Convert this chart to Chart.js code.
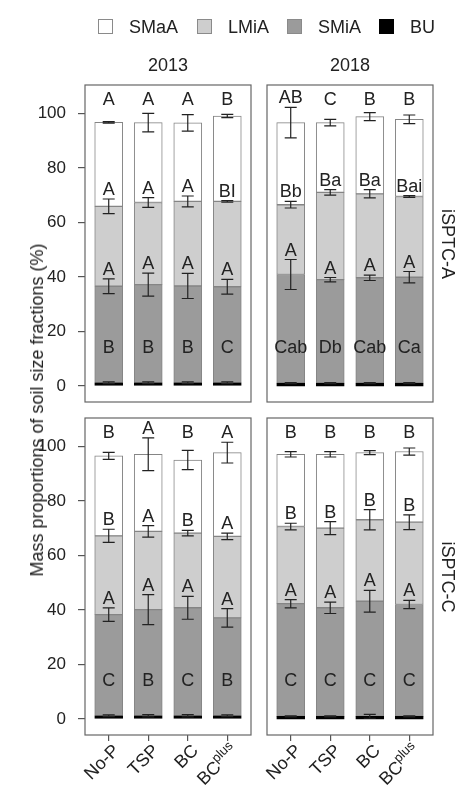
<!DOCTYPE html>
<html>
<head>
<meta charset="utf-8">
<script src="https://cdn.jsdelivr.net/npm/chart.js@4/dist/chart.umd.min.js"></script>
<style>
  html, body { margin: 0; padding: 0; background: #fff; }
  #wrap { position: relative; width: 462px; height: 787px; overflow: hidden;
          font-family: "Liberation Sans", Arial, Helvetica, sans-serif; color: #222; }
  #wrap canvas { position: absolute; left: 0; top: 0; }
  .txt { position: absolute; white-space: nowrap; font-size: 18px; line-height: 18px; }
  .sw { position: absolute; width: 15px; height: 15px; box-sizing: border-box; border: 1px solid #8a8a8a; }
</style>
</head>
<body>
<div id="wrap">
  <canvas id="pA2013" width="462" height="787"></canvas>
  <canvas id="pA2018" width="462" height="787"></canvas>
  <canvas id="pC2013" width="462" height="787"></canvas>
  <canvas id="pC2018" width="462" height="787"></canvas>
</div>
<script>
// ---- categories and labels ----
const treatments = ['No-P', 'TSP', 'BC', 'BC^plus'];
const fractions = ['SMaA', 'LMiA', 'SMiA', 'BU'];
const years = ['2013', '2018'];
const sites = ['iSPTC-A', 'iSPTC-C'];
const yTicks = [0, 20, 40, 60, 80, 100];

// ---- iSPTC-A, 2013 (mass %, mean and SE per fraction) ----
const A2013_BU   = [1.2, 1.2, 1.2, 1.2];
const A2013_SMiA = [35.4, 36.0, 35.5, 35.2];
const A2013_LMiA = [29.3, 30.1, 31.0, 31.3];
const A2013_SMaA = [30.8, 29.3, 28.8, 31.3];
const A2013_seBU   = [0.3, 0.3, 0.3, 0.3];
const A2013_seSMiA = [2.7, 4.2, 4.6, 2.7];
const A2013_seLMiA = [2.7, 1.8, 2.0, 0.3];
const A2013_seSMaA = [0.3, 3.4, 3.0, 0.6];
const A2013_letBU   = ['B', 'B', 'B', 'C'];
const A2013_letSMiA = ['A', 'A', 'A', 'A'];
const A2013_letLMiA = ['A', 'A', 'A', 'BI'];
const A2013_letSMaA = ['A', 'A', 'A', 'B'];

// ---- iSPTC-A, 2018 ----
const A2018_BU   = [1.1, 1.1, 1.1, 1.1];
const A2018_SMiA = [39.8, 37.9, 38.6, 38.8];
const A2018_LMiA = [25.6, 32.0, 30.8, 29.6];
const A2018_SMaA = [30.1, 25.6, 28.3, 28.3];
const A2018_seBU   = [0.2, 0.2, 0.2, 0.2];
const A2018_seSMiA = [5.5, 0.8, 1.0, 2.1];
const A2018_seLMiA = [1.2, 1.0, 1.5, 0.3];
const A2018_seSMaA = [5.6, 1.2, 1.5, 1.6];
const A2018_letBU   = ['Cab', 'Db', 'Cab', 'Ca'];
const A2018_letSMiA = ['A', 'A', 'A', 'A'];
const A2018_letLMiA = ['Bb', 'Ba', 'Ba', 'Bai'];
const A2018_letSMaA = ['AB', 'C', 'B', 'B'];

// ---- iSPTC-C, 2013 ----
const C2013_BU   = [1.2, 1.2, 1.2, 1.2];
const C2013_SMiA = [37.1, 38.9, 39.6, 35.9];
const C2013_LMiA = [28.9, 28.7, 27.4, 29.9];
const C2013_SMaA = [29.3, 28.3, 26.8, 30.7];
const C2013_seBU   = [0.3, 0.4, 0.4, 0.3];
const C2013_seSMiA = [2.5, 5.5, 4.2, 3.4];
const C2013_seLMiA = [2.4, 2.1, 1.0, 1.2];
const C2013_seSMaA = [1.3, 6.0, 3.5, 3.8];
const C2013_letBU   = ['C', 'B', 'C', 'B'];
const C2013_letSMiA = ['A', 'A', 'A', 'A'];
const C2013_letLMiA = ['B', 'A', 'B', 'A'];
const C2013_letSMaA = ['B', 'A', 'B', 'A'];

// ---- iSPTC-C, 2018 ----
const C2018_BU   = [1.0, 1.0, 1.0, 1.0];
const C2018_SMiA = [41.3, 39.8, 42.2, 41.0];
const C2018_LMiA = [28.3, 29.2, 29.9, 30.2];
const C2018_SMaA = [26.5, 27.1, 24.6, 25.9];
const C2018_seBU   = [0.2, 0.2, 0.7, 0.2];
const C2018_seSMiA = [1.5, 2.1, 4.0, 1.5];
const C2018_seLMiA = [1.2, 2.4, 3.7, 2.7];
const C2018_seSMaA = [1.0, 1.0, 0.7, 1.3];
const C2018_letBU   = ['C', 'C', 'C', 'C'];
const C2018_letSMiA = ['A', 'A', 'A', 'A'];
const C2018_letLMiA = ['B', 'B', 'B', 'B'];
const C2018_letSMaA = ['B', 'B', 'B', 'B'];

// ---- layout and styling ----
const PAGE_W = 462, PAGE_H = 787;
const FONT = '"Liberation Sans", Arial, Helvetica, sans-serif';
const INK = '#222';
const FILL = { SMaA: '#ffffff', LMiA: '#cecece', SMiA: '#9b9b9b', BU: '#000000' };
const Y_MIN = -5.85, Y_MAX = 110.4;     // R-style padded range
const X_MIN = -0.6, X_MAX = 3.6;
const YAXIS_W = 80, XAXIS_H = 20;
const BU_LETTER_Y = 14.5, TOP_LETTER_Y = 105.5;

const panels = [
  { id: 'pA2013', box: { l: 85,  t: 85,  r: 251, b: 402 }, yAxis: true,  xAxis: false,
    bu: A2013_BU, smia: A2013_SMiA, lmia: A2013_LMiA, smaa: A2013_SMaA,
    se: [A2013_seBU, A2013_seSMiA, A2013_seLMiA, A2013_seSMaA],
    let: [A2013_letBU, A2013_letSMiA, A2013_letLMiA, A2013_letSMaA] },
  { id: 'pA2018', box: { l: 267, t: 85,  r: 433, b: 402 }, yAxis: false, xAxis: false,
    bu: A2018_BU, smia: A2018_SMiA, lmia: A2018_LMiA, smaa: A2018_SMaA,
    se: [A2018_seBU, A2018_seSMiA, A2018_seLMiA, A2018_seSMaA],
    let: [A2018_letBU, A2018_letSMiA, A2018_letLMiA, A2018_letSMaA] },
  { id: 'pC2013', box: { l: 85,  t: 418, r: 251, b: 735 }, yAxis: true,  xAxis: true,
    bu: C2013_BU, smia: C2013_SMiA, lmia: C2013_LMiA, smaa: C2013_SMaA,
    se: [C2013_seBU, C2013_seSMiA, C2013_seLMiA, C2013_seSMaA],
    let: [C2013_letBU, C2013_letSMiA, C2013_letLMiA, C2013_letSMaA] },
  { id: 'pC2018', box: { l: 267, t: 418, r: 433, b: 735 }, yAxis: false, xAxis: true,
    bu: C2018_BU, smia: C2018_SMiA, lmia: C2018_LMiA, smaa: C2018_SMaA,
    se: [C2018_seBU, C2018_seSMiA, C2018_seLMiA, C2018_seSMaA],
    let: [C2018_letBU, C2018_letSMiA, C2018_letLMiA, C2018_letSMaA] }
];

// frame round the plotting region
const framePlugin = {
  id: 'frame',
  afterDraw(chart) {
    const a = chart.chartArea, ctx = chart.ctx;
    ctx.save();
    ctx.strokeStyle = '#666';
    ctx.lineWidth = 1.2;
    ctx.strokeRect(a.left, a.top, a.right - a.left, a.bottom - a.top);
    ctx.restore();
  }
};

// SE whiskers at each cumulative top, plus significance letters
function errorLetterPlugin(p) {
  return {
    id: 'errorLetters',
    afterDatasetsDraw(chart) {
      const ctx = chart.ctx, xs = chart.scales.x, ys = chart.scales.y;
      ctx.save();
      ctx.strokeStyle = INK; ctx.fillStyle = INK; ctx.lineWidth = 1.2;
      ctx.font = '18px ' + FONT; ctx.textAlign = 'center'; ctx.textBaseline = 'alphabetic';
      const parts = [p.bu, p.smia, p.lmia, p.smaa];
      for (let i = 0; i < treatments.length; i++) {
        const cx = xs.getPixelForValue(i);
        let top = 0;
        for (let k = 0; k < 4; k++) {
          top += parts[k][i];
          const se = p.se[k][i];
          const yHi = ys.getPixelForValue(top + se), yLo = ys.getPixelForValue(top - se);
          ctx.beginPath();
          ctx.moveTo(cx, yHi); ctx.lineTo(cx, yLo);
          ctx.moveTo(cx - 6, yHi); ctx.lineTo(cx + 6, yHi);
          ctx.moveTo(cx - 6, yLo); ctx.lineTo(cx + 6, yLo);
          ctx.stroke();
          const label = p.let[k][i];
          let base;
          if (k === 0) base = ys.getPixelForValue(BU_LETTER_Y) + 6.5;
          else if (k === 3) base = Math.min(yHi - 4, ys.getPixelForValue(TOP_LETTER_Y) + 6.5);
          else base = yHi - 4;
          ctx.fillText(label, cx, base);
        }
      }
      ctx.restore();
    }
  };
}

// rotated treatment names under the bottom panels (with superscript part)
function xLabelPlugin(p) {
  return {
    id: 'xLabels',
    afterDraw(chart) {
      if (!p.xAxis) return;
      const ctx = chart.ctx, xs = chart.scales.x, bottom = chart.chartArea.bottom;
      ctx.save();
      ctx.fillStyle = INK; ctx.textAlign = 'right'; ctx.textBaseline = 'middle';
      treatments.forEach((name, i) => {
        ctx.save();
        ctx.translate(xs.getPixelForValue(i) + 8, bottom + 13);
        ctx.rotate(-Math.PI / 4);
        const [main, sup] = name.split('^');
        if (sup) {
          ctx.font = '13px ' + FONT;
          const w = ctx.measureText(sup).width;
          ctx.fillText(sup, 0, -6);
          ctx.font = '18px ' + FONT;
          ctx.fillText(main, -w, 0);
        } else {
          ctx.font = '18px ' + FONT;
          ctx.fillText(main, 0, 0);
        }
        ctx.restore();
      });
      ctx.restore();
    }
  };
}

function buildPanel(p) {
  const series = [['BU', p.bu], ['SMiA', p.smia], ['LMiA', p.lmia], ['SMaA', p.smaa]];
  const datasets = series.map(([name, vals]) => ({
    label: name,
    data: vals.map((v, i) => ({ x: i, y: v })),
    backgroundColor: FILL[name],
    borderColor: name === 'BU' ? '#000' : '#858585',
    borderWidth: 1,
    borderSkipped: false,
    barThickness: 28
  }));
  const xH = p.xAxis ? XAXIS_H : 0;
  const yW = p.yAxis ? YAXIS_W : 0;
  return new Chart(document.getElementById(p.id), {
    type: 'bar',
    data: { datasets },
    options: {
      responsive: false,
      animation: false,
      events: [],
      layout: { padding: {
        left: p.box.l - yW,
        right: PAGE_W - p.box.r,
        top: p.box.t,
        bottom: PAGE_H - p.box.b - xH
      } },
      plugins: { legend: { display: false }, tooltip: { enabled: false } },
      scales: {
        x: {
          type: 'linear', stacked: true, min: X_MIN, max: X_MAX, offset: false,
          display: p.xAxis,
          afterBuildTicks(s) { s.ticks = treatments.map((t, i) => ({ value: i })); },
          afterFit(s) { s.height = xH; },
          border: { display: false },
          grid: { offset: false, drawOnChartArea: false, drawTicks: true, tickLength: 6, color: '#555', lineWidth: 1.2 },
          ticks: { autoSkip: false, maxRotation: 0, callback: () => '' }
        },
        y: {
          type: 'linear', stacked: true, min: Y_MIN, max: Y_MAX,
          display: p.yAxis,
          afterBuildTicks(s) { s.ticks = yTicks.map(v => ({ value: v })); },
          afterFit(s) { s.width = yW; },
          border: { display: false },
          grid: { drawOnChartArea: false, drawTicks: true, tickLength: 7, color: '#555', lineWidth: 1.2 },
          ticks: { padding: 12, color: INK, font: { family: FONT, size: 17 }, callback: v => String(v) }
        }
      }
    },
    plugins: [framePlugin, errorLetterPlugin(p), xLabelPlugin(p)]
  });
}

panels.forEach(buildPanel);

// ---- surrounding text: legend, strip titles, axis title ----
const wrap = document.getElementById('wrap');
function addText(text, x, y, rot, align) {
  const d = document.createElement('div');
  d.className = 'txt';
  d.textContent = text;
  d.style.left = x + 'px';
  d.style.top = y + 'px';
  const tx = align === 'left' ? '0' : '-50%';
  d.style.transform = `translate(${tx}, -50%)` + (rot ? ` rotate(${rot}deg)` : '');
  wrap.appendChild(d);
  return d;
}
const legendX = [98, 197, 287, 379];
fractions.forEach((f, i) => {
  const sw = document.createElement('div');
  sw.className = 'sw';
  sw.style.left = legendX[i] + 'px';
  sw.style.top = '19px';
  sw.style.background = FILL[f];
  if (f === 'BU') sw.style.borderColor = '#000';
  wrap.appendChild(sw);
  addText(f, legendX[i] + 31, 27, 0, 'left');
});
addText(years[0], 168, 65);
addText(years[1], 350, 65);
addText(sites[0], 448, 243.5, 90);
addText(sites[1], 448, 576.5, 90);
addText('Mass proportions of soil size fractions (%)', 37, 410, -90);
</script>
</body>
</html>
